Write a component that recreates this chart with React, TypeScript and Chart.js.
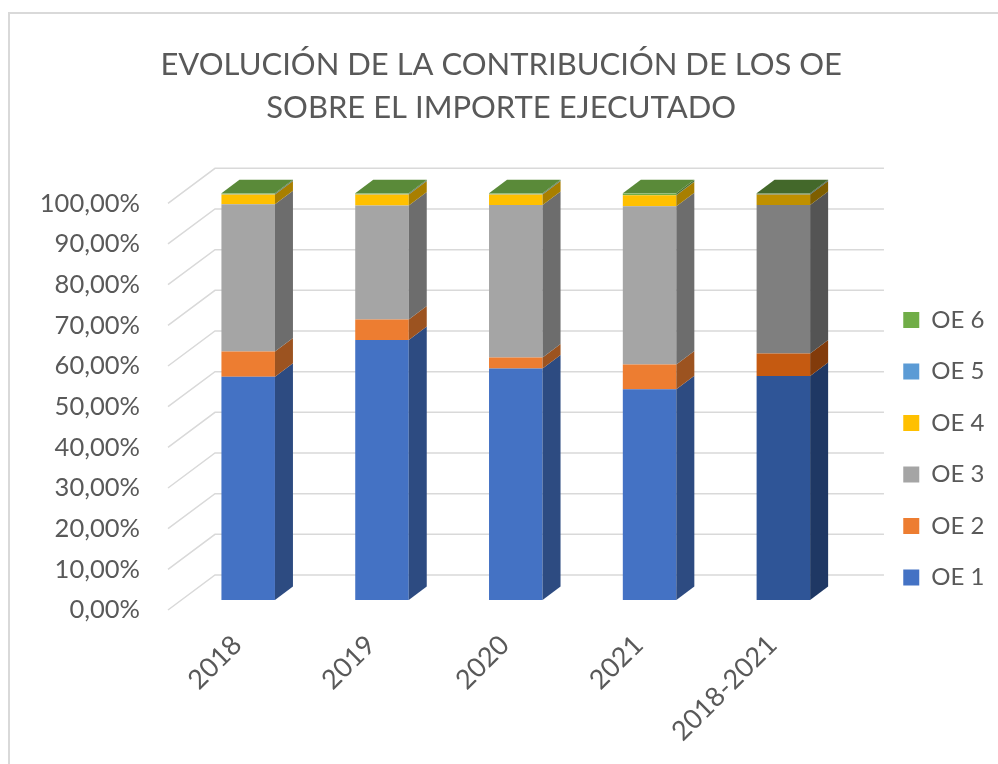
import React, { useEffect, useRef } from 'react';
import { Chart, registerables } from 'chart.js';

Chart.register(...registerables);

// ---- data ----
const categories = ['2018', '2019', '2020', '2021', '2018-2021'];
const seriesNames = ['OE 1', 'OE 2', 'OE 3', 'OE 4', 'OE 5', 'OE 6'];
const oe1 = [54.9, 63.9, 56.9, 51.8, 55.1];
const oe2 = [6.2, 5.1, 2.7, 6.1, 5.5];
const oe3 = [36.2, 28.0, 37.5, 38.9, 36.5];
const oe4 = [2.4, 2.7, 2.6, 2.7, 2.6];
const oe5 = [0.1, 0.1, 0.1, 0.1, 0.1];
const oe6 = [0.2, 0.2, 0.2, 0.4, 0.2];
const yTicks = [0, 10, 20, 30, 40, 50, 60, 70, 80, 90, 100];
const titleLines = ['EVOLUCIÓN DE LA CONTRIBUCIÓN DE LOS OE', 'SOBRE EL IMPORTE EJECUTADO'];

// ---- styles ----
const normalColors = ['#4472C4', '#ED7D31', '#A5A5A5', '#FFC000', '#5B9BD5', '#70AD47'];
const highlightColors = ['#2F5597', '#C55A11', '#7F7F7F', '#BF9000', '#2E75B6', '#548235'];
const HIGHLIGHT_INDEX = 4;
const FRONT_OFF = { x: -13.3, y: 10 };
const BACK_OFF = { x: 33.7, y: -25 };
const BAR_DEPTH = { x: 18, y: 13.5 };
const FONT = 'Lato, "Noto Sans", sans-serif';
const TEXT_COLOR = '#595959';

function shade(hex: string, f: number): string {
  const n = parseInt(hex.slice(1), 16);
  const r = Math.round(((n >> 16) & 255) * f);
  const g = Math.round(((n >> 8) & 255) * f);
  const b = Math.round((n & 255) * f);
  return `rgb(${r},${g},${b})`;
}

function colorFor(ds: number, idx: number | undefined): string {
  return idx === HIGHLIGHT_INDEX ? highlightColors[ds] : normalColors[ds];
}

const threeD = {
  id: 'threeD',
  beforeDatasetsDraw(chart: any) {
    const { ctx, chartArea, scales } = chart;
    const y = scales.y;
    ctx.save();
    ctx.strokeStyle = '#D9D9D9';
    ctx.lineWidth = 1.5;
    for (const v of yTicks) {
      const py = y.getPixelForValue(v);
      ctx.beginPath();
      ctx.moveTo(chartArea.left + FRONT_OFF.x, py + FRONT_OFF.y);
      ctx.lineTo(chartArea.left + BACK_OFF.x, py + BACK_OFF.y);
      ctx.lineTo(chartArea.right + BACK_OFF.x, py + BACK_OFF.y);
      ctx.stroke();
    }
    ctx.restore();
  },
  afterDatasetsDraw(chart: any) {
    const { ctx } = chart;
    const nDs = chart.data.datasets.length;
    ctx.save();
    const tops: Record<number, { ds: number; el: any }> = {};
    for (let d = 0; d < nDs; d++) {
      const meta = chart.getDatasetMeta(d);
      meta.data.forEach((el: any, j: number) => {
        const { x, y, base, width } = el.getProps(['x', 'y', 'base', 'width'], true);
        const right = x + width / 2;
        const top = Math.min(y, base);
        const bot = Math.max(y, base);
        if (bot - top > 0.01) {
          ctx.fillStyle = shade(colorFor(d, j), 0.66);
          ctx.beginPath();
          ctx.moveTo(right, bot);
          ctx.lineTo(right, top);
          ctx.lineTo(right + BAR_DEPTH.x, top - BAR_DEPTH.y);
          ctx.lineTo(right + BAR_DEPTH.x, bot - BAR_DEPTH.y);
          ctx.closePath();
          ctx.fill();
          tops[j] = { ds: d, el };
        }
      });
    }
    Object.keys(tops).forEach((k) => {
      const j = Number(k);
      const { ds, el } = tops[j];
      const { x, y, base, width } = el.getProps(['x', 'y', 'base', 'width'], true);
      const left = x - width / 2;
      const right = x + width / 2;
      const top = Math.min(y, base);
      ctx.fillStyle = shade(colorFor(ds, j), 0.8);
      ctx.beginPath();
      ctx.moveTo(left, top);
      ctx.lineTo(left + BAR_DEPTH.x, top - BAR_DEPTH.y);
      ctx.lineTo(right + BAR_DEPTH.x, top - BAR_DEPTH.y);
      ctx.lineTo(right, top);
      ctx.closePath();
      ctx.fill();
    });
    ctx.restore();
  },
};

export default function App() {
  const ref = useRef<HTMLCanvasElement | null>(null);

  useEffect(() => {
    if (!ref.current) return;
    const series = [oe1, oe2, oe3, oe4, oe5, oe6];
    const chart = new Chart(ref.current, {
      type: 'bar',
      data: {
        labels: categories,
        datasets: series.map((values, d) => ({
          label: seriesNames[d],
          data: values,
          backgroundColor: (c: any) => colorFor(d, c.type === 'data' ? c.dataIndex : undefined),
          borderWidth: 0,
          categoryPercentage: 1,
          barPercentage: 0.4,
        })),
      },
      options: {
        responsive: false,
        animation: false,
        devicePixelRatio: 1,
        layout: { padding: { left: 8, right: 3.6, top: 0, bottom: 0 } },
        plugins: {
          title: {
            display: true,
            text: titleLines,
            color: TEXT_COLOR,
            font: { family: FONT, size: 31, weight: 'normal', lineHeight: 43 / 31 },
            padding: { top: 43.5, bottom: 63.8 },
          },
          legend: {
            position: 'right',
            align: 'start',
            reverse: true,
            labels: {
              boxWidth: 16,
              boxHeight: 16,
              padding: 27.5,
              color: TEXT_COLOR,
              font: { family: FONT, size: 24 },
            },
            title: {
              display: true,
              text: ' ',
              font: { size: 10 },
              padding: { top: 0, bottom: 268.5 },
            },
          },
          tooltip: { enabled: false },
        },
        scales: {
          x: {
            stacked: true,
            grid: { display: false, drawTicks: false },
            border: { display: false },
            ticks: {
              minRotation: 45,
              maxRotation: 45,
              padding: 29,
              labelOffset: -11,
              color: TEXT_COLOR,
              font: { family: FONT, size: 27 },
            },
            afterFit: (s: any) => {
              s.height = 164;
            },
          },
          y: {
            stacked: true,
            min: 0,
            max: 100,
            grid: { display: false, drawTicks: false },
            border: { display: false },
            ticks: {
              stepSize: 10,
              padding: 41.3,
              labelOffset: 10,
              color: TEXT_COLOR,
              font: { family: FONT, size: 25.5 },
              callback: (v: any) => Number(v).toFixed(2).replace('.', ',') + '%',
            },
            afterFit: (s: any) => {
              s.width = 173.3;
            },
          },
          yR: {
            position: 'right',
            display: true,
            grid: { display: false, drawTicks: false },
            border: { display: false },
            ticks: { display: false },
            afterFit: (s: any) => {
              s.width = 25.5;
            },
          },
        },
      },
      plugins: [threeD],
    } as any);
    return () => chart.destroy();
  }, []);

  return (
    <div style={{ position: 'fixed', left: 0, top: 0, width: 998, height: 764, overflow: 'hidden', background: '#fff' }}>
      <div
        style={{
          position: 'absolute',
          left: 8,
          top: 12,
          width: 1100,
          height: 900,
          border: '2px solid #D9D9D9',
          boxSizing: 'border-box',
        }}
      />
      <canvas ref={ref} width={998} height={764} style={{ position: 'absolute', left: 0, top: 0, display: 'block' }} />
    </div>
  );
}
